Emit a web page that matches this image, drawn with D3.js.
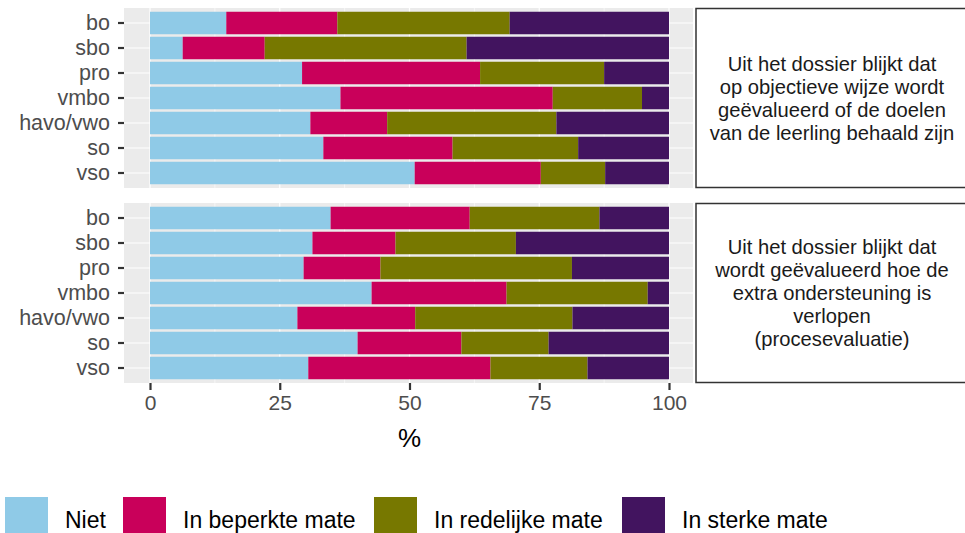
<!DOCTYPE html>
<html><head><meta charset="utf-8">
<script src="https://cdn.jsdelivr.net/npm/d3@7"></script>
<style>body{margin:0;background:#fff}svg{display:block;font-family:"Liberation Sans",Arial,sans-serif}</style>
</head><body><svg id="c" width="965" height="533"></svg>
<script>
const categories = ["bo","sbo","pro","vmbo","havo/vwo","so","vso"];
const levels = ["Niet","In beperkte mate","In redelijke mate","In sterke mate"];
const colors = ["#8FCAE7","#C9005A","#777800","#42145F"];
const xTicks = [0,25,50,75,100];
const panel1Label = ["Uit het dossier blijkt dat","op objectieve wijze wordt","geëvalueerd of de doelen","van de leerling behaald zijn"];
const panel2Label = ["Uit het dossier blijkt dat","wordt geëvalueerd hoe de","extra ondersteuning is","verlopen","(procesevaluatie)"];
// values per category: [Niet, Beperkt, Redelijk, Sterk]
const panel1Values = [
  [14.7,21.4,33.2,30.7],
  [6.3,15.8,38.9,39.0],
  [29.3,34.3,23.9,12.5],
  [36.7,40.9,17.2,5.2],
  [30.9,14.8,32.6,21.7],
  [33.4,24.9,24.2,17.5],
  [51.0,24.3,12.4,12.3]
];
const panel2Values = [
  [34.8,26.8,25.0,13.4],
  [31.3,16.0,23.2,29.5],
  [29.6,14.8,36.9,18.7],
  [42.7,26.0,27.2,4.1],
  [28.4,22.7,30.3,18.6],
  [40.0,20.0,16.8,23.2],
  [30.5,35.1,18.7,15.7]
];

const svg = d3.select("#c");
const panelL = 124, panelR = 693;
const x = d3.scaleLinear().domain([0,100]).range([150,669]);
const panels = [
  {top:8, bottom:188, values:panel1Values, label:panel1Label},
  {top:203, bottom:383, values:panel2Values, label:panel2Label}
];
const axisColor = "#4D4D4D";

panels.forEach((p,pi)=>{
  const h = p.bottom - p.top;
  const step = h / (categories.length + 0.2);
  const y = d3.scaleBand().domain(categories).range([p.top + step*0.1, p.bottom - step*0.1]).paddingInner(0.1).paddingOuter(0.05);
  const g = svg.append("g");
  g.append("rect").attr("x",panelL).attr("y",p.top).attr("width",panelR-panelL).attr("height",h).attr("fill","#EBEBEB");
  d3.range(12.5,100,25).forEach(v=>{
    g.append("line").attr("x1",x(v)).attr("x2",x(v)).attr("y1",p.top).attr("y2",p.bottom).attr("stroke","#fff").attr("stroke-width",0.6);
  });
  xTicks.forEach(v=>{
    g.append("line").attr("x1",x(v)).attr("x2",x(v)).attr("y1",p.top).attr("y2",p.bottom).attr("stroke","#fff").attr("stroke-width",1.2);
  });
  categories.forEach(c=>{
    const cy = y(c)+y.bandwidth()/2;
    g.append("line").attr("x1",panelL).attr("x2",panelR).attr("y1",cy).attr("y2",cy).attr("stroke","#fff").attr("stroke-width",1.2);
  });
  const stacked = p.values.map((vals,i)=>{
    let acc=0;
    return vals.map((v,k)=>{const s={cat:categories[i],k:k,x0:acc,x1:acc+v}; acc+=v; return s;});
  }).flat();
  g.selectAll("rect.bar").data(stacked).enter().append("rect").attr("class","bar")
    .attr("x",d=>x(d.x0)).attr("width",d=>x(d.x1)-x(d.x0))
    .attr("y",d=>y(d.cat)).attr("height",y.bandwidth())
    .attr("fill",d=>colors[d.k]);
  const ya = g.append("g").attr("transform",`translate(${panelL},0)`).call(d3.axisLeft(y).tickSize(6).tickPadding(8));
  ya.select(".domain").remove();
  ya.selectAll("line").attr("stroke","#333").attr("stroke-width",2.2);
  ya.selectAll("text").attr("fill",axisColor).attr("font-size",21.5).attr("font-family","Liberation Sans, Arial, sans-serif");
  g.append("rect").attr("x",696).attr("y",p.top+0.5).attr("width",280).attr("height",h-1).attr("fill","#fff").attr("stroke","#333").attr("stroke-width",1.5);
  const cy = (p.top+p.bottom)/2, lh = 23;
  const n = p.label.length;
  g.append("text").attr("x",832).attr("text-anchor","middle").attr("font-size",20.2).attr("fill","#1A1A1A")
    .selectAll("tspan").data(p.label).enter().append("tspan")
    .attr("x",832).attr("y",(d,i)=>cy + (i-(n-1)/2)*lh).attr("dy","0.35em").text(d=>d);
});

const xa = svg.append("g").attr("transform",`translate(0,383)`).call(d3.axisBottom(x).tickValues(xTicks).tickSize(7).tickPadding(5));
xa.select(".domain").remove();
xa.selectAll("line").attr("stroke","#333").attr("stroke-width",2.2);
xa.selectAll("text").attr("fill",axisColor).attr("font-size",21).attr("font-family","Liberation Sans, Arial, sans-serif");
svg.append("text").attr("x",(panelL+panelR)/2+1).attr("y",447).attr("text-anchor","middle").attr("font-size",26).attr("fill","#000").text("%");

const legX = [5,123,374,622];
levels.forEach((l,i)=>{
  svg.append("rect").attr("x",legX[i]).attr("y",497).attr("width",43).attr("height",43).attr("fill",colors[i]);
  svg.append("text").attr("x",legX[i]+60).attr("y",528).attr("font-size",23).attr("fill","#000").text(l);
});
</script></body></html>
